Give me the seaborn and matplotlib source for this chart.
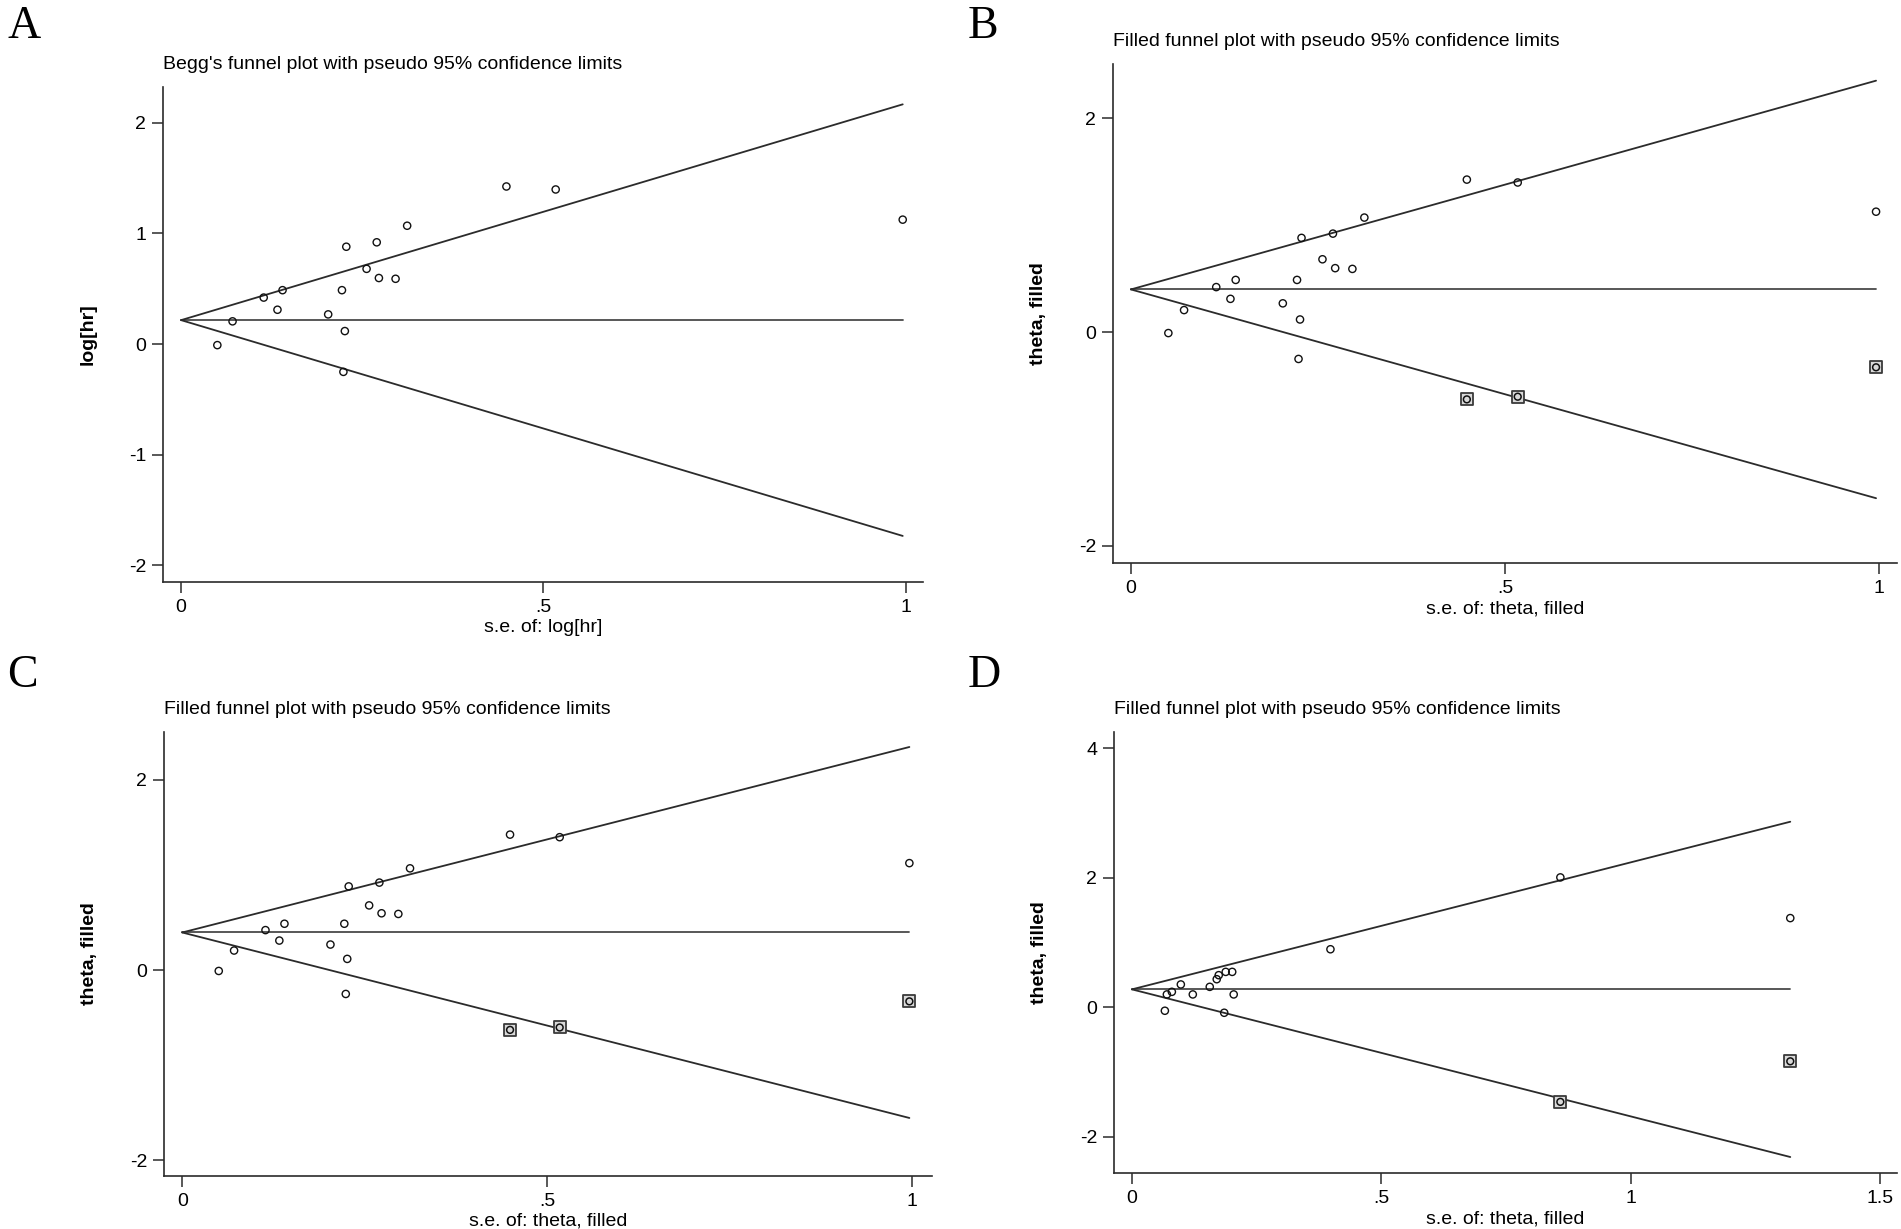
import matplotlib
matplotlib.use("Agg")
import matplotlib.pyplot as plt
import seaborn as sns
import numpy as np
import pandas as pd

# ---------------- data ----------------
# observed studies (panels A, B, C)
se_obs = [0.050, 0.071, 0.114, 0.133, 0.140, 0.203, 0.222, 0.228, 0.226, 0.224,
          0.256, 0.270, 0.273, 0.296, 0.312, 0.449, 0.517, 0.996]
theta_obs = [-0.01, 0.205, 0.42, 0.31, 0.487, 0.268, 0.487, 0.88, 0.117, -0.252,
             0.68, 0.92, 0.597, 0.59, 1.07, 1.425, 1.398, 1.125]
center_A = 0.216
# trim-and-fill imputed studies (panels B, C)
se_fill_BC = [0.449, 0.517, 0.996]
theta_fill_BC = [-0.63, -0.605, -0.33]
center_B = 0.398
center_C = 0.395

# panel D
se_D = [0.066, 0.070, 0.080, 0.098, 0.122, 0.156, 0.170, 0.174, 0.188, 0.201,
        0.204, 0.185, 0.398, 0.859, 1.320]
theta_D = [-0.052, 0.20, 0.24, 0.354, 0.20, 0.317, 0.435, 0.497, 0.548, 0.548,
           0.20, -0.083, 0.897, 2.006, 1.378]
se_fill_D = [0.859, 1.320]
theta_fill_D = [-1.458, -0.832]
center_D = 0.278

titles = ["Begg's funnel plot with pseudo 95% confidence limits",
          "Filled funnel plot with pseudo 95% confidence limits",
          "Filled funnel plot with pseudo 95% confidence limits",
          "Filled funnel plot with pseudo 95% confidence limits"]
xlabels = ["s.e. of: log[hr]", "s.e. of: theta, filled",
           "s.e. of: theta, filled", "s.e. of: theta, filled"]
ylabels = ["log[hr]", "theta, filled", "theta, filled", "theta, filled"]
letters = ["A", "B", "C", "D"]
xticks_list = [[0, 0.5, 1], [0, 0.5, 1], [0, 0.5, 1], [0, 0.5, 1, 1.5]]
xticklabels_list = [["0", ".5", "1"], ["0", ".5", "1"], ["0", ".5", "1"],
                    ["0", ".5", "1", "1.5"]]
yticks_list = [[-2, -1, 0, 1, 2], [-2, 0, 2], [-2, 0, 2], [-2, 0, 2, 4]]

# ---------------- style ----------------
sns.set_theme(style="white")
plt.rcParams["font.family"] = ["Liberation Sans", "DejaVu Sans"]

W, H = 1901, 1229
fig = plt.figure(figsize=(W / 100, H / 100), dpi=100)

def rect(left, top, right, bottom):
    return [left / W, 1 - bottom / H, (right - left) / W, (bottom - top) / H]

rects = [rect(163, 87, 923, 582), rect(1113, 64, 1897, 563),
         rect(164, 732, 932, 1176), rect(1114, 732, 1897, 1173)]
xlims = [(-0.025, 1.024), (-0.024, 1.024), (-0.025, 1.027), (-0.036, 1.534)]
ylims = [(-2.153, 2.325), (-2.16, 2.506), (-2.168, 2.505), (-2.556, 4.25)]
letter_pos = [(7, 38), (968, 38), (7, 687), (968, 687)]

panels = [
    (se_obs, theta_obs, None, None, center_A),
    (se_obs, theta_obs, se_fill_BC, theta_fill_BC, center_B),
    (se_obs, theta_obs, se_fill_BC, theta_fill_BC, center_C),
    (se_D, theta_D, se_fill_D, theta_fill_D, center_D),
]

line_col = "#2b2b2b"
for i, (se, th, sef, thf, c) in enumerate(panels):
    ax = fig.add_axes(rects[i])
    all_se = list(se) + (list(sef) if sef is not None else [])
    semax = max(all_se)
    # funnel lines
    fun = pd.DataFrame({
        "x": [0, semax, 0, semax, 0, semax],
        "y": [c, c, c, c + 1.96 * semax, c, c - 1.96 * semax],
        "g": ["mid", "mid", "up", "up", "lo", "lo"],
    })
    for g, col in [("mid", "#4a4a4a"), ("up", line_col), ("lo", line_col)]:
        sub = fun[fun.g == g]
        sns.lineplot(data=sub, x="x", y="y", ax=ax, color=col, lw=1.3,
                     sort=False, estimator=None, legend=False)
    # filled (imputed) studies
    if sef is not None:
        sns.scatterplot(x=sef, y=thf, ax=ax, marker="s", s=70,
                        facecolor="#d9d9d9", edgecolor="#3a3a3a",
                        linewidth=1.3, legend=False, zorder=3)
        sns.scatterplot(x=sef, y=thf, ax=ax, marker="o", s=24,
                        facecolor="none", edgecolor="#111111",
                        linewidth=1.1, legend=False, zorder=4)
    sns.scatterplot(x=se, y=th, ax=ax, marker="o", s=27,
                    facecolor="none", edgecolor="#111111",
                    linewidth=1.0, legend=False, zorder=4)

    ax.set_xlim(*xlims[i])
    ax.set_ylim(*ylims[i])
    ax.set_xticks(xticks_list[i])
    ax.set_xticklabels(xticklabels_list[i])
    ax.set_yticks(yticks_list[i])
    ax.set_yticklabels([str(v) for v in yticks_list[i]])
    for s in ["top", "right"]:
        ax.spines[s].set_visible(False)
    for s in ["left", "bottom"]:
        ax.spines[s].set_color("#2b2b2b")
        ax.spines[s].set_linewidth(1.2)
    ax.tick_params(axis="both", direction="out", length=8, width=1.1,
                   color="#2b2b2b", labelsize=14, labelcolor="black", pad=4,
                   left=True, bottom=True)
    ax.set_title(titles[i], loc="left", fontsize=14, pad=13, color="black")
    ax.set_xlabel(xlabels[i], fontsize=14, color="black")
    ax.set_ylabel(ylabels[i], fontsize=14, fontweight="bold", color="black")
    bb_h = rects[i][3] * H
    bb_w = rects[i][2] * W
    ax.xaxis.set_label_coords(0.5, -37 / bb_h)
    ax.yaxis.set_label_coords(-66 / bb_w, 0.5)
    ax.grid(False)
    lx, ly = letter_pos[i]
    fig.text(lx / W, 1 - ly / H, letters[i], fontsize=33,
             family=["Liberation Serif", "DejaVu Serif"], va="baseline",
             ha="left", color="black")

fig.savefig("out.png", dpi=100, facecolor="white")
